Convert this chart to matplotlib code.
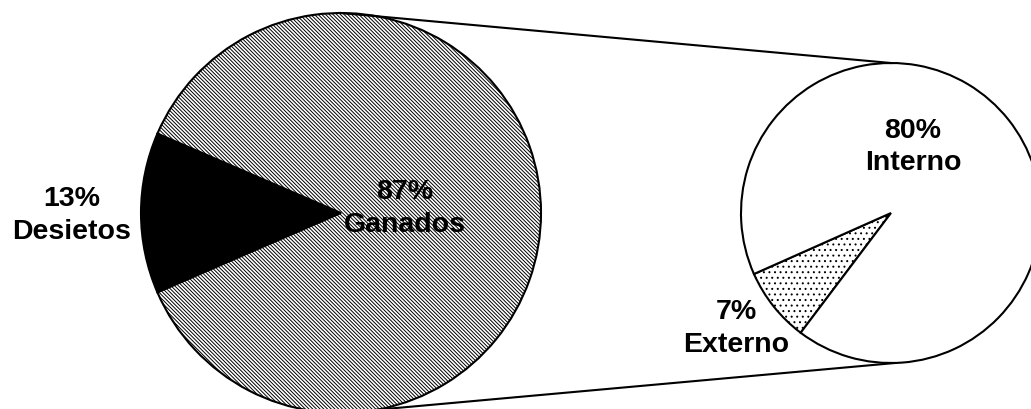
import matplotlib
matplotlib.use("Agg")
import matplotlib.pyplot as plt

# datos
main_labels = ["Desietos", "Ganados"]
main_values = [13, 87]
sub_labels = ["Externo", "Interno"]
sub_values = [7, 80]

W, H = 1031, 410
plt.rcParams["font.family"] = ["Liberation Sans", "DejaVu Sans"]
plt.rcParams["hatch.linewidth"] = 0.7


def Y(y):
    """Coordenada de imagen (y hacia abajo) -> datos (y hacia arriba)."""
    return H - y


fig = plt.figure(figsize=(W / 100, H / 100), dpi=100)
ax = fig.add_axes([0, 0, 1, 1])

c1, r1 = (341, Y(214)), 200
c2, r2 = (891, Y(214)), 150

start1 = 180 - main_values[0] / sum(main_values) * 360 / 2
w1, _ = ax.pie(main_values, center=c1, radius=r1, startangle=start1,
               colors=["black", "white"], hatch=["", "\\" * 9],
               wedgeprops=dict(edgecolor="black", linewidth=1.5))
w2, _ = ax.pie(sub_values, center=c2, radius=r2, startangle=204,
               colors=["white", "white"], hatch=["...", ""],
               wedgeprops=dict(edgecolor="black", linewidth=1.5))

# líneas de conexión entre las dos tartas
ax.plot([c1[0], c2[0]], [c1[1] + r1, c2[1] + r2], color="black", lw=1.5)
ax.plot([c1[0], c2[0] + 4], [c1[1] - r1, c2[1] - r2], color="black", lw=1.5)

txt = dict(fontsize=20.5, fontweight="bold", ha="center", va="center",
           multialignment="center", linespacing=1.35)
pos_main = [(72, 216), (405, 209)]
pos_sub = [(736, 329), (913, 147)]
for (x, y), v, name in zip(pos_main, main_values, main_labels):
    ax.text(x, Y(y), f"{v}%\n{name}", **txt)
for (x, y), v, name in zip(pos_sub, sub_values, sub_labels):
    ax.text(x, Y(y), f"{v}%\n{name}", **txt)

ax.set_xlim(0, W)
ax.set_ylim(0, H)
ax.set_aspect("equal")
ax.axis("off")
fig.savefig("out.png", dpi=100)
